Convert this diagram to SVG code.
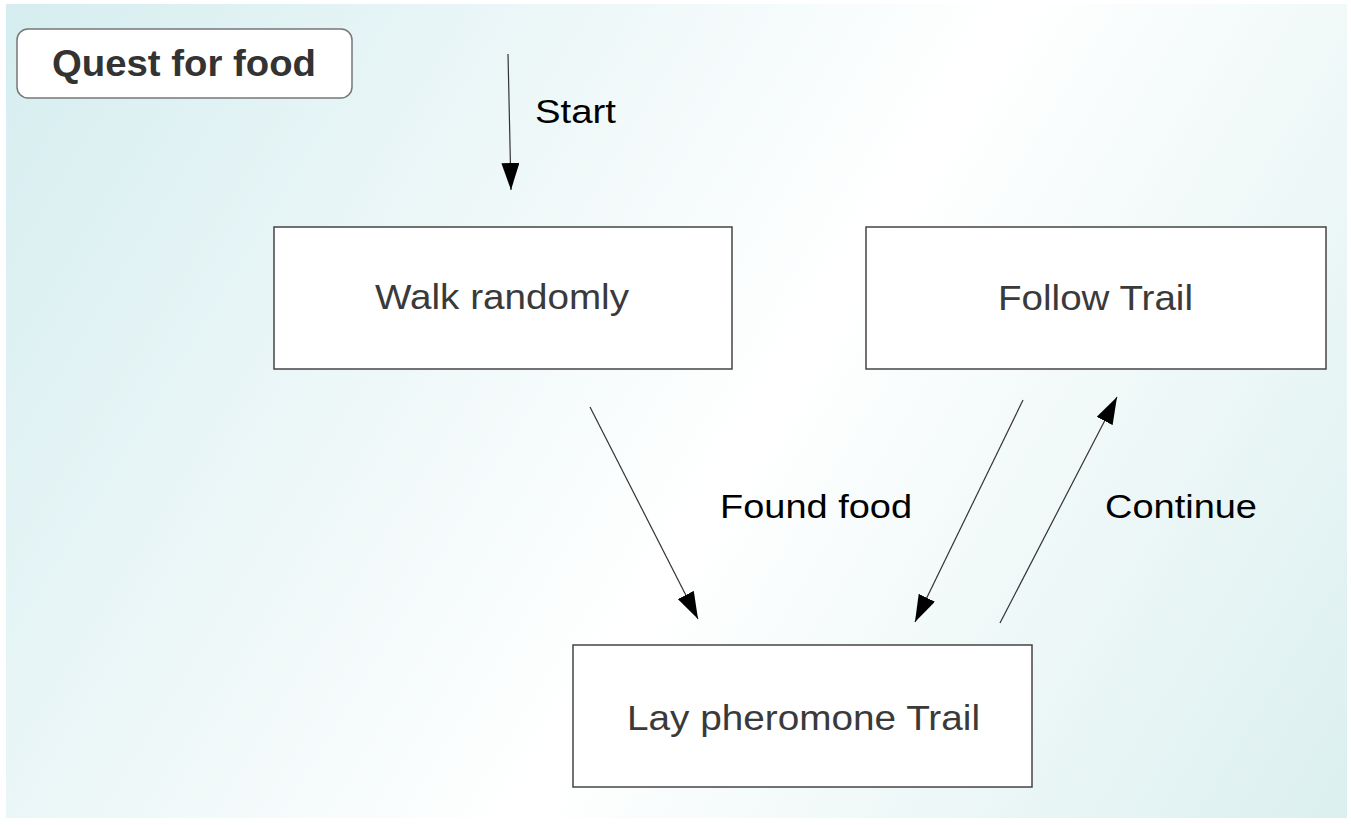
<svg xmlns="http://www.w3.org/2000/svg" width="1351" height="825" viewBox="0 0 1351 825">
<defs>
<linearGradient id="bg" x1="0" y1="0" x2="1351" y2="825" gradientUnits="userSpaceOnUse">
<stop offset="0" stop-color="#d5edef"/>
<stop offset="0.55" stop-color="#ffffff"/>
<stop offset="1" stop-color="#dbefef"/>
</linearGradient>
<marker id="ah" viewBox="0 0 27 18" refX="27" refY="9" markerWidth="27" markerHeight="18" orient="auto" markerUnits="userSpaceOnUse">
<path d="M0,0 L27,9 L0,18 Z" fill="#000"/>
</marker>
<style>
.box{fill:#ffffff;stroke:#444444;stroke-width:1.5}
.ntext{font-family:"Liberation Sans",Arial,sans-serif;font-size:35px;fill:#3a3a3a;text-anchor:middle}
.lbl{font-family:"Liberation Sans",Arial,sans-serif;font-size:34px;fill:#000000}
.conn{stroke:#333333;stroke-width:1.2;fill:none;marker-end:url(#ah)}
</style>
</defs>
<rect x="0" y="0" width="1351" height="825" fill="#ffffff"/>
<rect x="6" y="4" width="1341" height="814" fill="url(#bg)"/>
<g id="title">
<rect x="17" y="29" width="335" height="69" rx="11" ry="11" fill="#ffffff" stroke="#777777" stroke-width="1.5"/>
<text x="184" y="76" font-family="Liberation Sans, Arial, sans-serif" font-size="36" font-weight="bold" fill="#333333" text-anchor="middle" textLength="264" lengthAdjust="spacingAndGlyphs">Quest for food</text>
</g>
<g id="walk">
<rect class="box" x="274" y="227" width="458" height="142"/>
<text class="ntext" x="502" y="309" textLength="254" lengthAdjust="spacingAndGlyphs">Walk randomly</text>
</g>
<g id="follow">
<rect class="box" x="866" y="227" width="460" height="142"/>
<text class="ntext" x="1095.5" y="310" textLength="195" lengthAdjust="spacingAndGlyphs">Follow Trail</text>
</g>
<g id="lay">
<rect class="box" x="573" y="645" width="459" height="142"/>
<text class="ntext" x="803.5" y="730" textLength="353" lengthAdjust="spacingAndGlyphs">Lay pheromone Trail</text>
</g>
<g id="connectors">
<line class="conn" x1="508" y1="54" x2="511" y2="190"/>
<line class="conn" x1="590" y1="407" x2="698" y2="619"/>
<line class="conn" x1="1023" y1="400" x2="915" y2="622"/>
<line class="conn" x1="1000" y1="623" x2="1117" y2="397"/>
<text class="lbl" x="535" y="123" textLength="81" lengthAdjust="spacingAndGlyphs">Start</text>
<text class="lbl" x="720" y="518" textLength="192" lengthAdjust="spacingAndGlyphs">Found food</text>
<text class="lbl" x="1105" y="518" textLength="152" lengthAdjust="spacingAndGlyphs">Continue</text>
</g>
</svg>
